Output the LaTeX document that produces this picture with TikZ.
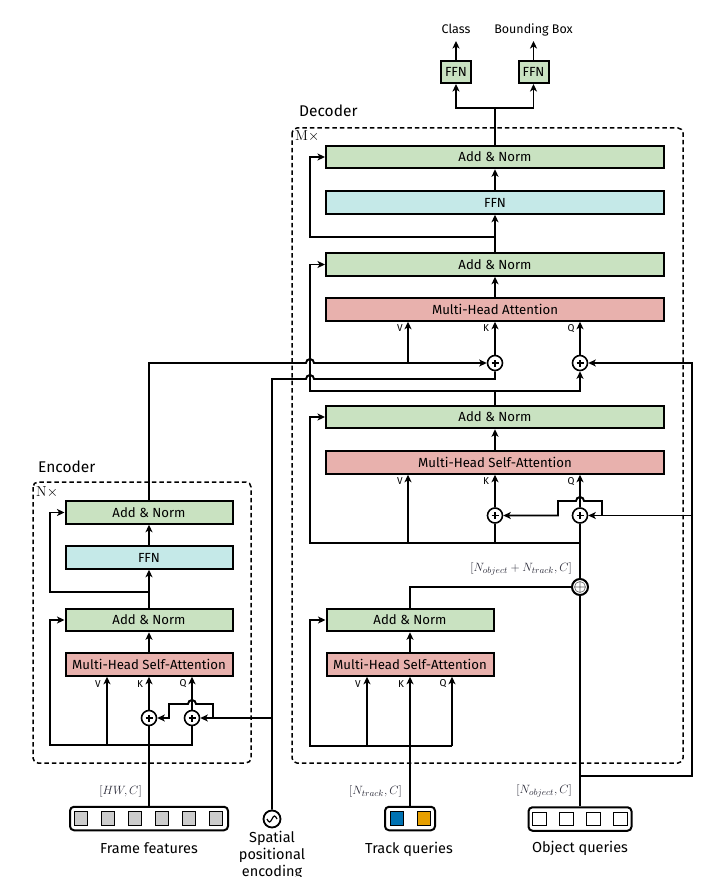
\documentclass[tikz,border=0pt]{standalone}
\usepackage[no-math]{fontspec}
\setmainfont{Fira Sans}
\usetikzlibrary{arrows.meta,calc}

\definecolor{normgreen}{HTML}{C9E2C1}
\definecolor{ffncyan}{HTML}{C5E9E8}
\definecolor{attred}{HTML}{E8B1AD}
\definecolor{featgray}{HTML}{CCCCCC}
\definecolor{trackblue}{HTML}{0072B2}
\definecolor{trackorange}{HTML}{E69F00}
\definecolor{dimgray}{HTML}{2A2A38}

\begin{document}
\begin{tikzpicture}[x=1pt,y=-1pt]

    \tikzstyle{block}+=[
        draw,
        line width = 2pt,
        minimum height=22.5pt,
        inner sep=0pt,
        font=\fontsize{13.2}{15}\selectfont
    ]
    \tikzstyle{norm}+=[block, fill=normgreen]
    \tikzstyle{ffn}+=[block, fill=ffncyan]
    \tikzstyle{mha}+=[block, fill=attred]
    \tikzstyle{wide}+=[minimum width=338pt]
    \tikzstyle{narrow}+=[minimum width=167pt]
    \tikzstyle{head}+=[block, fill=normgreen, minimum width=30pt, minimum height=22pt]
    \tikzstyle{sumop}+=[
        circle,
        draw,
        line width = 1.6pt,
        fill=white,
        minimum size=15pt,
        inner sep=0pt,
        path picture={\draw[line width=1.2pt]
            ([xshift=-3.5pt]path picture bounding box.center) -- ([xshift=3.5pt]path picture bounding box.center)
            ([yshift=-3.5pt]path picture bounding box.center) -- ([yshift=3.5pt]path picture bounding box.center);}
    ]
    \tikzstyle{catop}+=[
        circle,
        draw,
        line width = 2pt,
        fill=white,
        minimum size=16pt,
        inner sep=0pt,
        path picture={\draw[line width=0.6pt, black!60]
            (path picture bounding box.center) circle (5.5pt)
            ([xshift=-5.5pt]path picture bounding box.center) -- ([xshift=5.5pt]path picture bounding box.center)
            ([yshift=-5.5pt]path picture bounding box.center) -- ([yshift=5.5pt]path picture bounding box.center);}
    ]
    \tikzstyle{waveop}+=[
        circle,
        draw,
        line width = 1.8pt,
        fill=white,
        minimum size=17pt,
        inner sep=0pt,
        path picture={\draw[line width=1.2pt]
            (path picture bounding box.center) ++(-5,0) sin ++(2.5,3) cos ++(2.5,-3) sin ++(2.5,-3) cos ++(2.5,3);}
    ]
    \tikzstyle{strip}+=[
        draw,
        line width = 2pt,
        rounded corners=4pt,
        minimum height=23.5pt,
        inner sep=0pt
    ]
    \tikzstyle{cell}+=[
        draw,
        line width = 1.1pt,
        minimum size=13.5pt,
        inner sep=0pt
    ]
    \tikzstyle{wire}+=[
        line width = 1.9pt
    ]
    \tikzstyle{flow}+=[
        wire,
        -{Stealth[length=7.5pt,width=7pt,inset=2pt]}
    ]
    \tikzstyle{stack}+=[
        line width = 1.5pt,
        dash pattern=on 4.5pt off 3pt,
        rounded corners=5pt
    ]
    \tikzstyle{qkv}+=[font=\fontsize{10}{11}\selectfont, inner sep=0pt]
    \tikzstyle{dims}+=[font=\fontsize{12.5}{14}\selectfont, text=dimgray, inner sep=0pt, anchor=east]
    \tikzstyle{caption}+=[font=\fontsize{14.5}{17}\selectfont, align=center, inner sep=0pt]
    \tikzstyle{heading}+=[font=\fontsize{15.5}{18}\selectfont, anchor=west, inner sep=0pt]
    \tikzstyle{title}+=[font=\fontsize{12.5}{14}\selectfont, anchor=south, inner xsep=0pt, inner ysep=7pt, text depth=0pt]
    \tikzstyle{repeat}+=[anchor=west, inner sep=0pt, font=\fontsize{13.5}{15}\selectfont]

    \fill[white] (0,0) rectangle (709,877);
    \useasboundingbox (0,0) rectangle (709,877);

    % ----------------------------------------------------------------------------
    \draw[stack] (33,482) rectangle (251,763);
    \draw[stack] (292,128) rectangle (683,763);
    \node[heading] (enctitle) at (38,467) {Encoder};
    \node[heading] (dectitle) at (299,111) {Decoder};
    \node[repeat] (encrep) at (36,492) {$\mathrm{N}\times$};
    \node[repeat] (decrep) at (295,136) {$\mathrm{M}\times$};

    % ----------------------------------------------------------------------------
    \node[norm, narrow] (enorm2) at (149,512.5) {Add \& Norm};
    \node[ffn, narrow] (effn) at (149,557.5) {FFN};
    \node[norm, narrow] (enorm1) at (149,620) {Add \& Norm};
    \node[mha, narrow] (emhsa) at (149,664.5) {Multi-Head Self-Attention};
    \node[sumop] (eaddk) at (149,718) {};
    \node[sumop] (eaddq) at (192,718) {};

    \node[norm, wide] (dnorm3) at (495,157) {Add \& Norm};
    \node[ffn, wide] (dffn) at (495,202.5) {FFN};
    \node[norm, wide] (dnorm2) at (495,264.5) {Add \& Norm};
    \node[mha, wide] (dmha) at (495,309.5) {Multi-Head Attention};
    \node[sumop] (daddk) at (495,363) {};
    \node[sumop] (daddq) at (580,363) {};
    \node[norm, wide] (dnorm1) at (495,417) {Add \& Norm};
    \node[mha, wide] (dmhsa) at (495,462.5) {Multi-Head Self-Attention};
    \node[sumop] (saddk) at (495,515.5) {};
    \node[sumop] (saddq) at (580,515.5) {};
    \node[catop] (concat) at (580,587) {};

    \node[norm, narrow] (tnorm) at (410,620) {Add \& Norm};
    \node[mha, narrow] (tmhsa) at (410,664.5) {Multi-Head Self-Attention};

    \node[head] (cls) at (456,72) {FFN};
    \node[head] (bbox) at (533.5,72) {FFN};
    \node[title] (clstext) at (456,41) {Class};
    \node[title] (bboxtext) at (533.5,41) {Bounding Box};

    % ----------------------------------------------------------------------------
    \node[strip, minimum width=158pt] (frame) at (149,818.5) {};
    \foreach \cx [count=\i] in {81,108,135,162,189,216}
        \node[cell, fill=featgray] (fcell\i) at (\cx,818.5) {};
    \node[strip, minimum width=50pt] (track) at (410,818.5) {};
    \node[cell, fill=trackblue] (tcell1) at (397,818.5) {};
    \node[cell, fill=trackorange] (tcell2) at (424,818.5) {};
    \node[strip, minimum width=103pt] (obj) at (580,819) {};
    \foreach \cx [count=\i] in {539.5,566.5,593.5,620.5}
        \node[cell, fill=white] (ocell\i) at (\cx,819) {};
    \node[waveop] (spe) at (272,819) {};

    \node[caption] (framecap) at (149,848) {Frame features};
    \node[caption] (trackcap) at (409,849) {Track queries};
    \node[caption] (objcap) at (580,848) {Object queries};
    \node[caption, anchor=north] (specap) at (272,831) {Spatial\\positional\\encoding};

    \node[dims] (framedim) at (142,791) {$[HW,C]$};
    \node[dims] (trackdim) at (402,791) {$[N_{track},C]$};
    \node[dims] (objdim) at (572,791) {$[N_{object},C]$};
    \node[dims] (catdim) at (572,569) {$[N_{object}+N_{track},C]$};

    % ----------------------------------------------------------------------------
    \node[qkv] (evl) at (98,684) {V};
    \node[qkv] (ekl) at (140,684) {K};
    \node[qkv] (eql) at (183,684) {Q};
    \node[qkv] (dvl) at (400,328.5) {V};
    \node[qkv] (dkl) at (486,328.5) {K};
    \node[qkv] (dql) at (571,328.5) {Q};
    \node[qkv] (svl) at (400,481.5) {V};
    \node[qkv] (skl) at (486,481.5) {K};
    \node[qkv] (sql) at (571,481.5) {Q};
    \node[qkv] (tvl) at (358,684) {V};
    \node[qkv] (tkl) at (401,684) {K};
    \node[qkv] (tql) at (443,684) {Q};

    % ----------------------------------------------------------------------------
    \coordinate (ebase) at (50,745);
    \coordinate (evcol) at (107,745);
    \coordinate (eskip) at (50,592);
    \coordinate (ejoin) at (149,592);
    \coordinate (espos) at (272,718);

    \draw[wire] (frame.north) -- (eaddk.south);
    \draw[flow] (eaddq.south) |- (ebase) |- (enorm1.west);
    \draw[flow] (evcol) -- (evcol |- emhsa.south);
    \draw[flow] (eaddk.north) -- (eaddk |- emhsa.south);
    \draw[flow] (eaddq.north) -- (eaddq |- emhsa.south);
    \draw[flow] (emhsa.north) -- (enorm1.south);
    \draw[flow] (enorm1.north) -- (effn.south);
    \draw[flow] (ejoin) -- (eskip) |- (enorm2.west);
    \draw[flow] (effn.north) -- (enorm2.south);
    \draw[flow] (espos) -- (eaddq.east);
    \draw[flow] (213,718) -- (213,704) -- (196,704) arc[start angle=0, end angle=180, radius=4pt] -- (169,704) -- (169,718) -- (eaddk.east);

    % ----------------------------------------------------------------------------
    \draw[flow] (enorm2.north) -- (149,363) -- (306,363) arc[start angle=180, end angle=0, radius=4pt] -- (daddk.west);
    \draw[wire] (spe.north) -- (272,379) -- (306,379) arc[start angle=180, end angle=0, radius=4pt] -- (495,379) -- (daddk.south);

    % ----------------------------------------------------------------------------
    \coordinate (dvcol) at (408,363);
    \coordinate (dsplit) at (495,391);
    \coordinate (dskip1) at (310,391);
    \coordinate (djoin) at (495,237);
    \coordinate (dskip2) at (310,237);
    \coordinate (dout) at (495,108);

    \draw[flow] (dvcol) -- (dvcol |- dmha.south);
    \draw[flow] (daddk.north) -- (daddk |- dmha.south);
    \draw[flow] (daddq.north) -- (daddq |- dmha.south);
    \draw[flow] (dmha.north) -- (dnorm2.south);
    \draw[flow] (dnorm2.north) -- (dffn.south);
    \draw[flow] (djoin) -- (dskip2) |- (dnorm3.west);
    \draw[flow] (dffn.north) -- (dnorm3.south);
    \draw[wire] (dnorm3.north) -- (dout);
    \draw[flow] (dout) -| (cls.south);
    \draw[flow] (dout) -| (bbox.south);
    \draw[flow] (cls.north) -- (clstext.south);
    \draw[flow] (bbox.north) -- (bboxtext.south);

    % ----------------------------------------------------------------------------
    \coordinate (sbase) at (580,543);
    \coordinate (sskip) at (310,543);
    \coordinate (svcol) at (408,543);

    \draw[wire] (dnorm1.north) -- (dsplit);
    \draw[flow] (dsplit) -| (daddq.south);
    \draw[flow] (dsplit) -- (dskip1) |- (dnorm2.west);
    \draw[flow] (dmhsa.north) -- (dnorm1.south);
    \draw[flow] (sbase) -- (sskip) |- (dnorm1.west);
    \draw[flow] (svcol) -- (svcol |- dmhsa.south);
    \draw[wire] (saddk.south) -- (saddk |- sbase);
    \draw[flow] (saddk.north) -- (saddk |- dmhsa.south);
    \draw[flow] (saddq.north) -- (saddq |- dmhsa.south);
    \draw[wire] (saddq.south) -- (concat.north);

    % ----------------------------------------------------------------------------
    \coordinate (oturn) at (580,776);
    \coordinate (oright) at (692,776);
    \coordinate (opos) at (692,515.5);

    \draw[wire] (obj.north) -- (concat.south);
    \draw[flow] (oturn) -- (oright) |- (daddq.east);
    \draw[flow] (opos) -- (saddq.east);
    \draw[flow] (602,515.5) -- (602,501) -- (584,501) arc[start angle=0, end angle=180, radius=4pt] -- (558,501) -- (558,515.5) -- (saddk.east);

    % ----------------------------------------------------------------------------
    \coordinate (tbase) at (452,746);
    \coordinate (tskip) at (310,746);
    \coordinate (tvcol) at (367,746);

    \draw[wire] (concat.west) -| (tnorm.north);
    \draw[flow] (track.north) -- (track.north |- tmhsa.south);
    \draw[flow] (tbase) -- (tbase |- tmhsa.south);
    \draw[flow] (tbase) -- (tskip) |- (tnorm.west);
    \draw[flow] (tvcol) -- (tvcol |- tmhsa.south);
    \draw[flow] (tmhsa.north) -- (tnorm.south);

\end{tikzpicture}
\end{document}
